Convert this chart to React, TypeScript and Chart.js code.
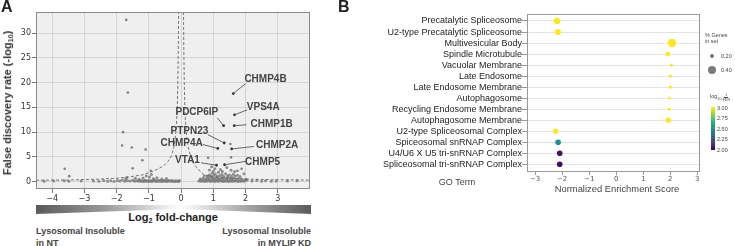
import React, { useEffect, useRef } from "react";
import { Chart, registerables } from "chart.js";
Chart.register(...registerables);

// ---------- Panel A: volcano plot ----------
const xTicksA = [-4, -3, -2, -1, 0, 1, 2, 3];
const yTicksA = [0, 5, 10, 15, 20, 25, 30];

const geneNames = ["CHMP4B", "VPS4A", "PDCP6IP", "CHMP1B", "PTPN23", "CHMP4A", "CHMP2A", "VTA1", "CHMP5"];
const geneLog2FC = [1.62, 1.66, 1.32, 1.65, 1.34, 1.14, 1.57, 1.1, 1.35];
const geneFDR = [17.8, 13.5, 11.3, 11.3, 7.8, 6.7, 6.6, 3.3, 3.4];
// where each gene's text sits, and where its leader line starts (data units)
const geneLabelAt = [[2.62, 20.6], [2.55, 15.1], [0.49, 14.1], [2.81, 11.65], [0.26, 10.2], [0.02, 7.7], [2.98, 7.3], [0.2, 4.3], [2.53, 4.0]];
const geneLeaderFrom = [[2.0, 19.8], [2.05, 14.5], [1.12, 12.9], [2.03, 11.5], [0.83, 9.5], [0.67, 7.5], [2.26, 7.1], [0.62, 3.8], [2.01, 4.1]];

const outlierPts = [
  [-1.7, 32.7], [-1.65, 18.0], [-1.8, 10.0], [-1.83, 7.3], [-1.53, 6.9], [-1.1, 6.5], [-1.2, 4.3],
  [-3.61, 2.6], [-3.47, 1.1], [-1.5, 2.7], [-0.94, 2.2],
  [1.53, 7.6], [0.84, 4.8], [1.55, 4.9], [1.75, 2.2], [1.88, 2.6],
];

const leftBandPts = [
  [-1.33, 0.12], [-1.29, 0.05], [-1.26, 0.22], [-1.22, 0.08], [-1.19, 0.15], [-1.15, 0.02], [-1.12, 0.28], [-1.09, 0.1],
  [-1.06, 0.18], [-1.03, 0.04], [-1.0, 0.24], [-0.97, 0.09], [-0.94, 0.16], [-0.91, 0.03], [-0.88, 0.21], [-0.85, 0.11],
  [-0.82, 0.3], [-0.79, 0.06], [-0.76, 0.17], [-0.73, 0.02], [-0.7, 0.25], [-0.67, 0.12], [-0.64, 0.07], [-0.61, 0.2],
  [-0.58, 0.04], [-0.55, 0.14], [-0.52, 0.27], [-0.49, 0.08], [-0.46, 0.18], [-0.43, 0.03], [-0.4, 0.22], [-0.37, 0.1],
  [-0.34, 0.16], [-0.31, 0.05], [-0.28, 0.24], [-0.25, 0.09], [-0.22, 0.14], [-0.19, 0.02], [-0.16, 0.19], [-0.13, 0.07],
  [-0.1, 0.12], [-0.07, 0.04], [-0.05, 0.2],
  [-4.25, 0.08], [-3.95, 0.12], [-3.62, 0.18], [-3.48, 0.05], [-3.1, 0.1], [-2.72, 0.14], [-2.55, 0.06], [-2.4, 0.2],
  [-2.28, 0.09], [-2.18, 0.15], [-2.08, 0.04], [-1.98, 0.22], [-1.9, 0.1], [-1.82, 0.3], [-1.74, 0.07], [-1.66, 0.18],
  [-1.58, 0.12], [-1.5, 0.25], [-1.44, 0.05], [-1.38, 0.16],
  [-1.72, 0.55], [-1.68, 0.85], [-1.42, 0.65], [-1.3, 0.45], [-1.18, 0.75], [-1.08, 1.15], [-0.98, 0.95], [-0.92, 1.45],
  [-0.86, 0.55], [-0.75, 0.8], [-0.6, 0.5], [-0.45, 0.6],
];

const rightClusterPts = [
  [0.55, 0.1], [0.59, 0.22], [0.62, 0.05], [0.66, 0.3], [0.7, 0.12], [0.73, 0.02], [0.77, 0.25], [0.8, 0.08],
  [0.84, 0.35], [0.87, 0.15], [0.91, 0.04], [0.94, 0.28], [0.98, 0.1], [1.01, 0.2], [1.05, 0.03], [1.08, 0.32],
  [1.12, 0.14], [1.15, 0.06], [1.19, 0.24], [1.22, 0.1], [1.26, 0.3], [1.29, 0.04], [1.33, 0.18], [1.36, 0.08],
  [1.4, 0.26], [1.43, 0.12], [1.47, 0.02], [1.5, 0.2], [1.54, 0.09], [1.57, 0.28], [1.61, 0.05], [1.64, 0.16],
  [1.68, 0.1], [1.72, 0.22], [1.76, 0.04], [1.8, 0.14], [1.85, 0.08], [1.9, 0.18], [1.95, 0.06],
  [0.6, 0.5], [0.68, 0.65], [0.74, 0.45], [0.8, 0.8], [0.86, 0.55], [0.9, 0.95], [0.95, 0.6], [1.0, 0.75],
  [1.04, 0.5], [1.1, 0.9], [1.14, 0.6], [1.18, 0.45], [1.24, 0.8], [1.3, 0.55], [1.35, 0.7], [1.41, 0.48],
  [1.46, 0.85], [1.52, 0.6], [1.58, 0.42], [1.63, 0.72], [1.7, 0.5], [1.78, 0.62], [1.86, 0.45],
  [0.72, 1.2], [0.82, 1.1], [0.88, 1.4], [0.93, 1.15], [0.97, 1.75], [1.02, 1.3], [1.06, 1.55], [1.12, 1.1],
  [1.16, 1.9], [1.2, 1.25], [1.27, 1.45], [1.32, 1.05], [1.38, 1.6], [1.44, 1.2], [1.5, 1.35], [1.56, 1.05],
  [1.62, 1.5], [1.68, 1.15], [1.75, 1.3], [1.83, 1.05],
  [0.88, 2.35], [1.0, 2.1], [1.05, 2.6], [1.22, 2.45], [1.28, 2.05], [1.42, 2.85], [1.55, 2.3], [1.66, 2.05],
  [1.95, 1.6], [0.95, 3.0],
  [2.05, 0.3], [2.0, 0.4], [1.98, 0.25], [2.02, 0.36], [2.2, 0.1], [2.35, 0.2], [2.5, 0.08], [2.62, 0.15],
  [2.8, 0.05], [2.95, 0.12], [3.3, 0.1], [3.6, 0.18],
];

const thresholdLeft = [
  [-4.5, 0.28], [-3.5, 0.32], [-2.6, 0.48], [-2.0, 0.68], [-1.6, 0.95], [-1.2, 1.35], [-0.95, 1.9], [-0.7, 2.6],
  [-0.5, 3.4], [-0.4, 4.1], [-0.3, 5.2], [-0.22, 7.0], [-0.16, 10.0], [-0.12, 14.0], [-0.1, 20.0], [-0.085, 27.0], [-0.075, 34.3],
];
const thresholdRight = [
  [0.075, 34.3], [0.085, 27.0], [0.1, 20.0], [0.12, 14.0], [0.16, 10.0], [0.22, 7.0], [0.3, 5.0], [0.4, 3.6],
  [0.5, 2.7], [0.7, 1.4], [1.0, 1.0], [1.5, 0.72], [2.0, 0.52], [2.8, 0.38], [4.0, 0.3],
];

// ---------- Panel B: GO term enrichment ----------
const goTerms = [
  "Precatalytic Spliceosome",
  "U2-type Precatalytic Spliceosome",
  "Multivesicular Body",
  "Spindle Microtubule",
  "Vacuolar Membrane",
  "Late Endosome",
  "Late Endosome Membrane",
  "Autophagosome",
  "Recycling Endosome Membrane",
  "Autophagosome Membrane",
  "U2-type Spliceosomal Complex",
  "Spiceosomal snRNAP Complex",
  "U4/U6 X U5 tri-snRNAP Complex",
  "Spliceosomal tri-snRNAP Complex",
];
const nes = [-2.19, -2.16, 2.06, 1.91, 2.04, 2.0, 2.0, 1.97, 1.96, 1.93, -2.24, -2.15, -2.09, -2.09];
const pctGenes = [0.32, 0.31, 0.42, 0.24, 0.16, 0.15, 0.16, 0.14, 0.16, 0.27, 0.26, 0.28, 0.28, 0.28];
const log10InvFdr = [3.0, 3.0, 3.0, 3.0, 3.0, 3.0, 3.0, 3.0, 3.0, 3.0, 3.0, 2.48, 2.05, 2.03];
const xTicksB = [-3, -2, -1, 0, 1, 2, 3];
const fdrTicks = ["3.00", "2.75", "2.50", "2.25", "2.00"];
const sizeLegend = [0.2, 0.4];

// viridis colour map (style)
const VIRIDIS = ["#440154", "#482475", "#414487", "#355f8d", "#2a788e", "#21918c", "#22a884", "#44bf70", "#7ad151", "#bddf26", "#fde725"];
function hexToRgb(h: string) {
  const n = parseInt(h.slice(1), 16);
  return [(n >> 16) & 255, (n >> 8) & 255, n & 255];
}
function viridis(t: number) {
  const c = Math.max(0, Math.min(1, t)) * (VIRIDIS.length - 1);
  const i = Math.min(Math.floor(c), VIRIDIS.length - 2);
  const f = c - i;
  const a = hexToRgb(VIRIDIS[i]);
  const b = hexToRgb(VIRIDIS[i + 1]);
  const m = a.map((v, k) => Math.round(v + (b[k] - v) * f));
  return `rgb(${m[0]},${m[1]},${m[2]})`;
}
const fmtMinus = (v: number) => (v < 0 ? "\u2212" + Math.abs(v) : String(v));
const toXY = (arr: number[][]) => arr.map(([x, y]) => ({ x, y }));

const SANS = "'Liberation Sans', Arial, Helvetica, sans-serif";

export default function App() {
  const refA = useRef<HTMLCanvasElement>(null);
  const refB = useRef<HTMLCanvasElement>(null);

  useEffect(() => {
    const bgPluginA = {
      id: "bgA",
      beforeDraw(chart: any) {
        const { ctx, chartArea: a } = chart;
        ctx.save();
        ctx.fillStyle = "#efefef";
        ctx.fillRect(a.left, a.top, a.right - a.left, a.bottom - a.top);
        ctx.restore();
      },
      afterDatasetsDraw(chart: any) {
        const { ctx, chartArea: a } = chart;
        ctx.save();
        ctx.strokeStyle = "#8a8a8a";
        ctx.lineWidth = 1;
        ctx.strokeRect(a.left + 0.5, a.top + 0.5, a.right - a.left - 1, a.bottom - a.top - 1);
        ctx.restore();
      },
    };
    const labelPlugin = {
      id: "geneLabels",
      afterDatasetsDraw(chart: any) {
        const { ctx } = chart;
        const x = chart.scales.x;
        const y = chart.scales.y;
        ctx.save();
        ctx.font = `bold 10px ${SANS}`;
        ctx.fillStyle = "#444";
        ctx.strokeStyle = "#444";
        ctx.lineWidth = 0.8;
        ctx.textAlign = "center";
        ctx.textBaseline = "middle";
        geneNames.forEach((n, i) => {
          ctx.beginPath();
          ctx.moveTo(x.getPixelForValue(geneLeaderFrom[i][0]), y.getPixelForValue(geneLeaderFrom[i][1]));
          ctx.lineTo(x.getPixelForValue(geneLog2FC[i]), y.getPixelForValue(geneFDR[i]));
          ctx.stroke();
          ctx.fillText(n, x.getPixelForValue(geneLabelAt[i][0]), y.getPixelForValue(geneLabelAt[i][1]));
        });
        ctx.restore();
      },
    };

    const dash = {
      showLine: true,
      borderColor: "#666",
      borderWidth: 0.9,
      borderDash: [3, 2],
      pointRadius: 0,
      fill: false,
      tension: 0,
    };

    const chartA = new Chart(refA.current!, {
      type: "scatter",
      data: {
        datasets: [
          {
            data: geneLog2FC.map((x, i) => ({ x, y: geneFDR[i] })),
            pointRadius: 1.4,
            backgroundColor: "#333",
            borderWidth: 0,
          },
          { data: toXY(outlierPts), pointRadius: 1.3, backgroundColor: "rgba(120,120,120,0.9)", borderWidth: 0 },
          { ...dash, data: toXY(thresholdLeft) } as any,
          { ...dash, data: toXY(thresholdRight) } as any,
          { data: toXY(leftBandPts), pointRadius: 1.5, backgroundColor: "rgba(125,125,125,0.85)", borderWidth: 0 },
          { data: toXY(rightClusterPts), pointRadius: 1.5, backgroundColor: "rgba(125,125,125,0.85)", borderWidth: 0 },
        ],
      },
      options: {
        animation: false,
        responsive: false,
        events: [],
        plugins: { legend: { display: false }, tooltip: { enabled: false } },
        layout: { padding: { top: 12, right: 10, left: 0, bottom: 0 } },
        scales: {
          x: {
            type: "linear",
            min: -4.5,
            max: 4,
            afterBuildTicks: (s: any) => {
              s.ticks = xTicksA.map((v) => ({ value: v }));
            },
            afterFit: (s: any) => {
              s.height = 16;
            },
            grid: { color: "#d4d4d4", tickLength: 4, tickColor: "#777" },
            border: { display: false },
            ticks: {
              font: { family: "'DejaVu Sans'", size: 8 },
              color: "#333",
              padding: 1,
              maxRotation: 0,
              autoSkip: false,
              callback: (v: any) => fmtMinus(Number(v)),
            },
          },
          y: {
            type: "linear",
            min: -1.5,
            max: 34.3,
            afterBuildTicks: (s: any) => {
              s.ticks = yTicksA.map((v) => ({ value: v }));
            },
            afterFit: (s: any) => {
              s.width = 36;
            },
            grid: { color: "#d4d4d4", tickLength: 4, tickColor: "#777" },
            border: { display: false },
            ticks: {
              font: { family: "'DejaVu Sans'", size: 8 },
              color: "#333",
              padding: 1,
              autoSkip: false,
              callback: (v: any) => fmtMinus(Number(v)),
            },
          },
        },
      },
      plugins: [bgPluginA, labelPlugin],
    } as any);

    const boxPluginB = {
      id: "boxB",
      beforeDatasetsDraw(chart: any) {
        const { ctx, chartArea: a } = chart;
        ctx.save();
        ctx.strokeStyle = "#9a9a9a";
        ctx.lineWidth = 1;
        ctx.strokeRect(a.left + 0.5, a.top + 0.5, a.right - a.left - 1, a.bottom - a.top - 1);
        ctx.restore();
      },
    };

    const chartB = new Chart(refB.current!, {
      type: "scatter",
      data: {
        datasets: [
          {
            data: nes.map((x, i) => ({ x, y: i })),
            pointRadius: pctGenes.map((p) => p * 10),
            backgroundColor: log10InvFdr.map((v) => viridis(v - 2)),
            borderWidth: 0,
          },
        ],
      },
      options: {
        animation: false,
        responsive: false,
        events: [],
        plugins: { legend: { display: false }, tooltip: { enabled: false } },
        layout: { padding: { top: 14, right: 35, left: 0, bottom: 0 } },
        scales: {
          x: {
            type: "linear",
            min: -3.3,
            max: 3.1,
            afterBuildTicks: (s: any) => {
              s.ticks = xTicksB.map((v) => ({ value: v }));
            },
            afterFit: (s: any) => {
              s.height = 28;
            },
            grid: { drawOnChartArea: false, tickLength: 3, tickColor: "#999", color: "#999" },
            border: { display: false },
            ticks: {
              font: { family: "'DejaVu Sans'", size: 7 },
              color: "#555",
              padding: 0,
              maxRotation: 0,
              autoSkip: false,
              callback: (v: any) => fmtMinus(Number(v)),
            },
          },
          y: {
            type: "linear",
            reverse: true,
            min: -0.635,
            max: 13.7,
            afterBuildTicks: (s: any) => {
              s.ticks = goTerms.map((_, i) => ({ value: i }));
            },
            afterFit: (s: any) => {
              s.width = 152;
            },
            grid: { color: "#e4e4e4", tickLength: 5, tickColor: "#999" },
            border: { display: false },
            ticks: {
              font: { family: SANS, size: 9 },
              color: "#222",
              padding: 0,
              autoSkip: false,
              callback: (v: any) => goTerms[Number(v)] ?? "",
            },
          },
        },
      },
      plugins: [boxPluginB],
    } as any);

    return () => {
      chartA.destroy();
      chartB.destroy();
    };
  }, []);

  const abs = (s: any) => ({ position: "absolute" as const, whiteSpace: "nowrap" as const, ...s });
  const cbGradient = `linear-gradient(to top, ${VIRIDIS.join(", ")})`;

  return (
    <div
      style={{
        position: "fixed",
        left: 0,
        top: 0,
        width: 735,
        height: 246,
        background: "#fff",
        overflow: "hidden",
        fontFamily: SANS,
        color: "#333",
      }}
    >
      <canvas ref={refA} width={320} height={205} style={abs({ left: 0, top: 0, width: 320, height: 205 })} />
      <canvas ref={refB} width={360} height={200} style={abs({ left: 375, top: 0, width: 360, height: 200 })} />

      {/* panel letters */}
      <div style={abs({ left: 1, top: -2, fontSize: 16, fontWeight: "bold", lineHeight: "18px", color: "#222" })}>A</div>
      <div style={abs({ left: 338, top: -2, fontSize: 16, fontWeight: "bold", lineHeight: "18px", color: "#222" })}>B</div>

      {/* panel A y-axis title */}
      <div
        style={abs({
          left: 8.5,
          top: 103,
          fontSize: 11,
          fontWeight: "bold",
          lineHeight: "12px",
          color: "#333",
          transform: "translate(-50%, -50%) rotate(-90deg)",
        })}
      >
        False discovery rate (-log<sub style={{ fontSize: "0.65em", verticalAlign: "-0.25em" }}>10</sub>)
      </div>

      {/* fold-change gradient bar */}
      <div
        style={abs({
          left: 36,
          top: 205,
          width: 275,
          height: 9,
          background: "linear-gradient(to right, #5a5a5a 0%, #9a9a9a 25%, #ffffff 52.7%, #9a9a9a 80%, #5a5a5a 100%)",
          clipPath: "polygon(0 0, 100% 0, 100% 100%, 52.7% 45%, 0 100%)",
        })}
      />
      <div style={abs({ left: 173, top: 211, transform: "translateX(-50%)", fontSize: 11, fontWeight: "bold", lineHeight: "13px", color: "#222" })}>
        Log<sub style={{ fontSize: "0.65em", verticalAlign: "-0.3em" }}>2</sub> fold-change
      </div>
      <div style={abs({ left: 36, top: 226, fontSize: 9, fontWeight: "bold", lineHeight: "11.7px", color: "#444" })}>
        Lysosomal Insoluble
        <br />
        in NT
      </div>
      <div style={abs({ left: 211, width: 100, top: 226, textAlign: "right", fontSize: 9, fontWeight: "bold", lineHeight: "11.7px", color: "#444" })}>
        Lysosomal Insoluble
        <br />
        in MYLIP KD
      </div>

      {/* panel B axis titles */}
      <div style={abs({ left: 457, top: 182, transform: "translate(-50%, -50%)", fontSize: 9, color: "#444" })}>GO Term</div>
      <div style={abs({ left: 617, top: 188, transform: "translate(-50%, -50%)", fontSize: 9.4, color: "#444" })}>
        Normalized Enrichment Score
      </div>

      {/* panel B size legend */}
      <div style={abs({ left: 705, top: 32, fontSize: 5.5, lineHeight: "6px", color: "#444" })}>
        % Genes
        <br />
        in set
      </div>
      {sizeLegend.map((p, i) => (
        <React.Fragment key={p}>
          <div
            style={abs({
              left: 712.3 - p * 10,
              top: [56, 70][i] - p * 10,
              width: p * 20,
              height: p * 20,
              borderRadius: "50%",
              background: "#7a7a7a",
            })}
          />
          <div style={abs({ left: 721, top: [56, 70][i], transform: "translateY(-50%)", fontSize: 5.5, color: "#444" })}>
            {p.toFixed(2)}
          </div>
        </React.Fragment>
      ))}

      {/* panel B colour legend */}
      <div style={abs({ left: 710, top: 93, fontSize: 5.5, color: "#444", display: "flex", alignItems: "center" })}>
        <span>
          log<sub style={{ fontSize: "0.7em" }}>10</sub>
        </span>
        <span style={{ display: "inline-flex", flexDirection: "column", alignItems: "center", fontSize: 3.6, marginLeft: 1, lineHeight: "4px" }}>
          <span style={{ borderBottom: "0.5px solid #444", padding: "0 1px" }}>1</span>
          <span>FDR</span>
        </span>
      </div>
      <div style={abs({ left: 711, top: 107, width: 3.5, height: 43, background: cbGradient })} />
      {fdrTicks.map((t, i) => (
        <div key={t} style={abs({ left: 717, top: 108 + i * 10.4, transform: "translateY(-50%)", fontSize: 5.5, color: "#444" })}>
          {t}
        </div>
      ))}
    </div>
  );
}
